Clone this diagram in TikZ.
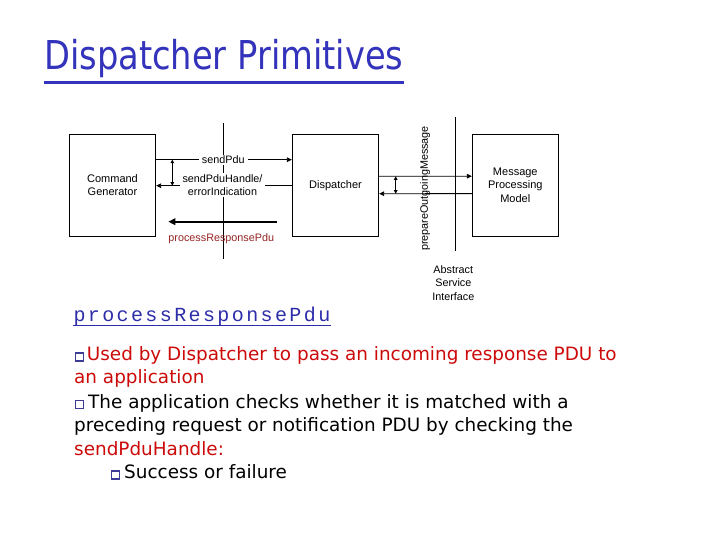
\documentclass[tikz,border=0pt]{standalone}
\usepackage{fontspec}
\usetikzlibrary{arrows.meta}
\newfontfamily\diagfont{Liberation Sans}
\newfontfamily\comicfont{DejaVu Sans}
\newfontfamily\monofont[LetterSpace=12]{Liberation Mono}
\definecolor{titleblue}{RGB}{51,51,187}
\definecolor{monoblue}{RGB}{45,45,170}
\definecolor{txtred}{RGB}{204,10,10}
\definecolor{lblred}{RGB}{150,35,35}
\definecolor{bulletblue}{RGB}{60,60,150}
\tikzset{
  box/.style={draw, line width=0.8pt, minimum width=86.4pt, minimum height=101.7pt,
    inner sep=0pt, align=center, font=\diagfont\fontsize{11}{13.4}\selectfont},
  lbl/.style={inner sep=0pt, align=center, font=\diagfont\fontsize{10.8}{13.6}\selectfont},
  arr/.style={line width=0.8pt, -{Triangle[length=5pt,width=4.5pt]}},
  darr/.style={line width=0.8pt, {Triangle[length=3.5pt,width=3.5pt]}-{Triangle[length=3.5pt,width=3.5pt]}},
  thickarr/.style={line width=2pt, -{Triangle[length=7pt,width=6.5pt]}},
  plain/.style={line width=0.8pt},
  bodytxt/.style={anchor=base west, inner sep=0pt, font=\comicfont\fontsize{18.4}{23.5}\selectfont},
  bulletsq/.style={draw=bulletblue, line width=1.2pt, fill=white, minimum size=8pt, inner sep=0pt}
}
\begin{document}
\begin{tikzpicture}[x=1pt,y=-1pt]
\useasboundingbox[fill=white] (0,0) rectangle (720,540);

% title
\node[anchor=base west, inner sep=0pt, text=titleblue, font=\comicfont\fontsize{33.7}{40}\selectfont] (title) at (44,70) {\scalebox{1}[1.18]{Dispatcher Primitives}};
\draw[titleblue, line width=2.5pt] ([yshift=-12.5pt]title.base west) -- ([yshift=-12.5pt]title.base east);

% boxes
\node[box] (cg) at (112.5,185.2) {Command\\Generator};
\node[box] (disp) at (335.5,185.2) {Dispatcher};
\node[box, minimum width=86pt] (mpm) at (515.3,185.1) {Message\\Processing\\Model};

% interface lines
\coordinate (v1top) at (223.3,123);
\coordinate (v1bot) at (223.3,259);
\coordinate (v2top) at (455.5,117);
\coordinate (v2bot) at (455.5,251);
\draw[plain] (v1top) -- (v1bot);
\draw[plain] (v2top) -- (v2bot);

% Command generator <-> Dispatcher
\draw[arr] ([yshift=25.5pt]cg.east) -- ([yshift=25.5pt]disp.west);
\draw[arr] ([yshift=-0.5pt]disp.west) -- ([yshift=-0.5pt]cg.east);
\coordinate (d1a) at (172.3,159.7);
\coordinate (d1b) at (172.3,185.7);
\draw[darr] (d1a) -- (d1b);
\coordinate (t1a) at (276.7,221.7);
\coordinate (t1b) at (168.3,221.7);
\draw[thickarr] (t1a) -- (t1b);

% Dispatcher <-> MPM
\draw[arr] ([yshift=8.9pt]disp.east) -- ([yshift=8.9pt]mpm.west);
\draw[arr] ([yshift=-8.5pt]mpm.west) -- ([yshift=-8.5pt]disp.east);
\coordinate (d2a) at (395.7,176.3);
\coordinate (d2b) at (395.7,193.7);
\draw[darr] (d2a) -- (d2b);

% labels
\node[lbl, fill=white, inner xsep=3pt, inner ysep=1pt] (lsp) at (223.3,159.7) {sendPdu};
\node[lbl, fill=white, inner xsep=2.5pt, inner ysep=1pt] (lsh) at (222.5,185.2) {sendPduHandle/\\errorIndication};
\node[lbl, text=lblred] (lpr) at (221.3,238.3) {processResponsePdu};
\node[lbl, rotate=90] (lpo) at (425,188.5) {prepareOutgoingMessage};
\node[lbl] (lasi) at (453.3,283) {Abstract\\Service\\Interface};

% lower text
\node[anchor=base west, inner sep=0pt, text=monoblue, font=\monofont\fontsize{20}{24}\selectfont] (prp) at (73.3,321.7) {processResponsePdu};
\draw[monoblue, line width=1.4pt] ([yshift=-3.5pt]prp.base west) -- ([yshift=-3.5pt]prp.base east);

\node[bulletsq] (b1) at (79.3,357) {};
\node[bodytxt, text=txtred] (l1) at (86.7,360) {Used by Dispatcher to pass an incoming response PDU to};
\node[bodytxt, text=txtred] (l2) at (74,383.5) {an application};
\node[bulletsq] (b2) at (79.3,404.5) {};
\node[bodytxt] (l3) at (88,408) {The application checks whether it is matched with a};
\node[bodytxt] (l4) at (74,431.7) {preceding request or notification PDU by checking the};
\node[bodytxt, text=txtred] (l5) at (74,455) {sendPduHandle:};
\node[bulletsq] (b3) at (115.5,475) {};
\node[bodytxt] (l6) at (124,478.5) {Success or failure};
\end{tikzpicture}
\end{document}
